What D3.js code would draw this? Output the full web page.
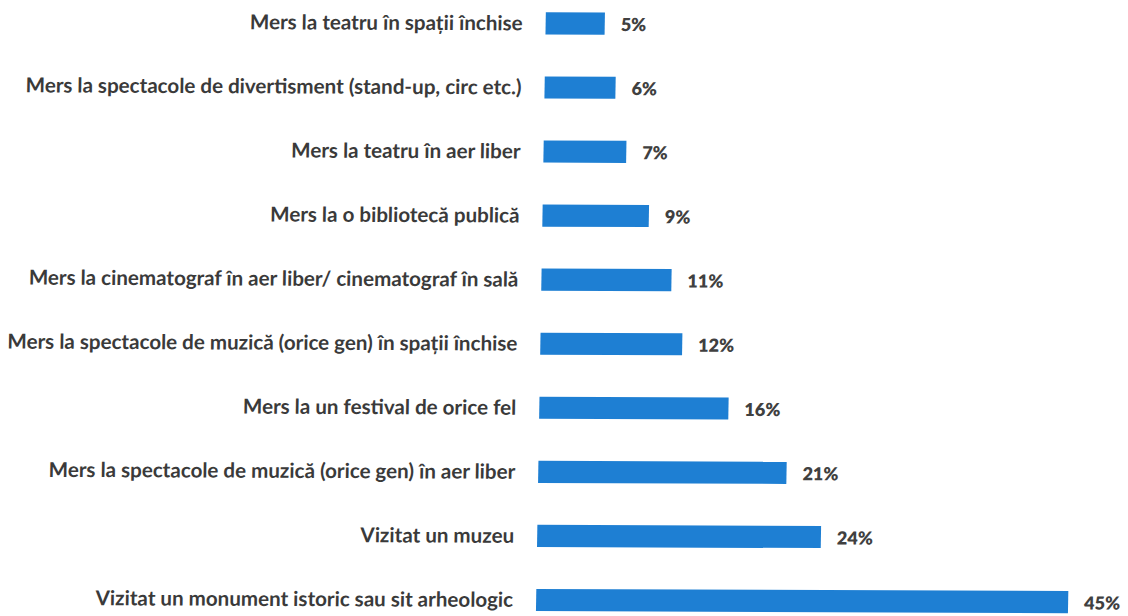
<!DOCTYPE html>
<html>
<head>
<meta charset="utf-8">
<script src="https://cdn.jsdelivr.net/npm/d3@7"></script>
<style>
  html, body { margin: 0; padding: 0; background: #ffffff; }
  svg { display: block; }
</style>
</head>
<body>
<svg id="chart" width="1128" height="616"></svg>
<script>
// Activities and share of respondents (%)
const categories = [
  "Mers la teatru în spații închise",
  "Mers la spectacole de divertisment (stand-up, circ etc.)",
  "Mers la teatru în aer liber",
  "Mers la o bibliotecă publică",
  "Mers la cinematograf în aer liber/ cinematograf în sală",
  "Mers la spectacole de muzică (orice gen) în spații închise",
  "Mers la un festival de orice fel",
  "Mers la spectacole de muzică (orice gen) în aer liber",
  "Vizitat un muzeu",
  "Vizitat un monument istoric sau sit arheologic"
];
const values = [5, 6, 7, 9, 11, 12, 16, 21, 24, 45];
const valueLabels = values.map(v => v + "%");

const svg = d3.select("#chart");
const margin = { left: 546 };

// slight slant of the whole sheet
const root = svg.append("g")
  .attr("transform", "matrix(1,0.004,-0.0165,1,0,0)");

const x = d3.scaleLinear()
  .domain([0, 45])
  .range([margin.left, margin.left + 532]);

const y = d3.scaleBand()
  .domain(categories)
  .range([-11, 630])
  .paddingInner(0.655)
  .paddingOuter(0.33);

const barColor = "#1e7fd3";

root.selectAll("rect.bar")
  .data(categories)
  .join("rect")
  .attr("class", "bar")
  .attr("x", x(0))
  .attr("y", d => y(d))
  .attr("width", (d, i) => x(values[i]) - x(0))
  .attr("height", y.bandwidth())
  .attr("fill", barColor);

// category labels on the left, via a left axis without line/ticks
const yAxis = d3.axisLeft(y).tickSize(0).tickPadding(23);
const axisG = root.append("g")
  .attr("transform", `translate(${x(0)},0)`)
  .call(yAxis);
axisG.select(".domain").remove();
axisG.selectAll("text")
  .attr("font-family", "Lato, 'Open Sans', sans-serif")
  .attr("font-weight", 700)
  .attr("fill", "#3a3a3a")
  .attr("font-size", 20)
  .attr("dy", "0.34em");

// fit the longest label to the available width
let maxW = 0;
axisG.selectAll("text").each(function () {
  maxW = Math.max(maxW, this.getComputedTextLength());
});
const fitted = 20 * 510 / maxW;
axisG.selectAll("text").attr("font-size", fitted);

// value labels
root.selectAll("text.val")
  .data(categories)
  .join("text")
  .attr("class", "val")
  .attr("x", (d, i) => x(values[i]) + 16)
  .attr("y", d => y(d) + y.bandwidth() / 2 + 1)
  .attr("dy", "0.35em")
  .attr("font-family", "Lato, 'Open Sans', sans-serif")
  .attr("font-weight", 800)
  .attr("font-size", 18)
  .attr("fill", "#404040")
  .text((d, i) => valueLabels[i]);
</script>
</body>
</html>
